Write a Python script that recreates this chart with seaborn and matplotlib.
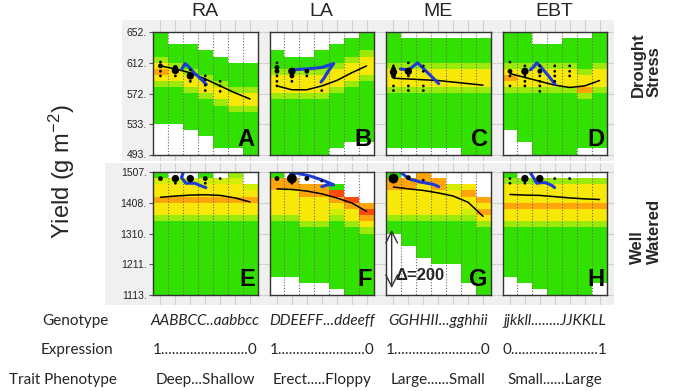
import numpy as np
import pandas as pd
import matplotlib
matplotlib.use('Agg')
import matplotlib.pyplot as plt
import seaborn as sns
from matplotlib.colors import ListedColormap

# ### Data

# x = genotype class (centre of each of the 7 columns)
classes = [0.5, 1.5, 2.5, 3.5, 4.5, 5.5, 6.5]
traits = ['RA', 'LA', 'ME', 'EBT']
letters = ['A', 'B', 'C', 'D', 'E', 'F', 'G', 'H']

ds_range = (493, 652)
ww_range = (1113, 1507)
ds_ticks = [493, 533, 572, 612, 652]
ww_ticks = [1113, 1211, 1310, 1408, 1507]

# frequency class per cell, one string per genotype column, top -> bottom
# 0 = no data, 1 = low ... 6 = high
heat_A = ["11112454211111100000", "00111244211111100000", "00111124421111110000",
          "00011112442111111000", "00001111244211111110", "00000111124421111110",
          "00000111124421111111"]
heat_B = ["00011124442111111111", "00001124442111111111", "00001124442111111111",
          "00011124442111111111", "00111244421111111110", "01112444211111111100",
          "11124442111111111100"]
heat_C = ["11111244421111111110", "01111244421111111110", "01111244421111111110",
          "01111244421111111110", "01111244421111111110", "01111244421111111111",
          "01111244421111111111"]
heat_D = ["11111245421111110000", "11111244421111111100", "00111244421111111111",
          "00111244421111111111", "01111244421111111111", "01111124452111111110",
          "11111244421111111110"]
heat_E = ["13445442111111111111", "03445442111111111111", "03445442111111111111",
          "13445442111111111111", "03445442111111111111", "23445442111111111111",
          "00345442111111111111"]
heat_F = ["15544442111111111000", "05544442111111111000", "00554444211111111100",
          "00554444211111111100", "00165432111111111110", "00006544211111111111",
          "00000565421111111111"]
heat_G = ["15544442110000000000", "05544442111100000000", "55444442111111000000",
          "05544442111111100000", "00344442111111100000", "00454432111111111100",
          "00005454211111111111"]
heat_H = ["12444544211111111000", "02444544211111111100", "02444544211111111110",
          "02444544211111111111", "02444544211111111111", "02444544211111111111",
          "02444544211111111100"]

# mean yield per genotype class
trend_A = [608, 604, 599, 591, 582, 573, 565]
trend_B = [582, 577, 577, 582, 589, 599, 608]
trend_C = [592, 591, 590, 589, 587, 585, 583]
trend_D = [598, 593, 588, 583, 580, 582, 589]
trend_E = [1426, 1430, 1433, 1434, 1432, 1424, 1411]
trend_F = [1453, 1451, 1446, 1437, 1424, 1408, 1381]
trend_G = [1459, 1453, 1448, 1440, 1430, 1410, 1365]
trend_H = [1435, 1433, 1432, 1428, 1424, 1421, 1419]

# selection trajectory (blue)
path_A_x = [1.93, 2.05, 2.15, 2.39, 2.75, 3.22, 3.57]
path_A_y = [604, 608, 611, 607, 599, 591, 584]
path_B_x = [1.5, 2.5, 3.5, 4.3, 3.9, 3.65, 3.45]
path_B_y = [603, 604, 606, 611, 600, 592, 587]
path_C_x = [0.96, 1.52, 2.12, 3.53]
path_C_y = [604, 603, 612, 585]
path_D_x = [1.86, 2.1, 2.3, 2.55, 3.0, 3.53]
path_D_y = [603, 607, 612, 607, 597, 584]
path_E_x = [2.02, 1.91, 2.2, 2.8, 3.14, 3.54]
path_E_y = [1505, 1489, 1471, 1471, 1464, 1457]
path_F_x = [1.4, 1.8, 2.8, 3.6, 4.3, 3.9, 3.5]
path_F_y = [1499, 1504, 1493, 1480, 1466, 1466, 1460]
path_G_x = [0.96, 1.3, 1.63, 1.86, 2.3, 2.75, 3.2, 3.53]
path_G_y = [1507, 1494, 1483, 1481, 1475, 1471, 1467, 1460]
path_H_x = [1.86, 2.15, 2.3, 2.64, 2.86, 3.31, 3.49]
path_H_y = [1505, 1483, 1471, 1473, 1473, 1464, 1457]

# population dots: class, yield, size class
dots_A_x = [0.5, 0.5, 0.5, 0.5, 1.5, 1.5, 1.5, 2.5, 2.5, 2.5, 3.5, 3.5, 3.5, 3.5, 4.5, 4.5, 4.5]
dots_A_y = [613, 608, 601, 595, 606, 602, 595, 603, 595, 588, 595, 590, 583, 576, 588, 582, 575]
dots_A_s = [1, 2, 1, 1, 2, 3, 1, 1, 3, 1, 1, 1, 1, 1, 1, 1, 1]
dots_B_x = [0.5, 0.5, 0.5, 0.5, 0.5, 0.5, 1.5, 1.5, 1.5, 2.5, 2.5, 3.5]
dots_B_y = [612, 606, 601, 595, 588, 582, 601, 595, 588, 601, 595, 576]
dots_B_s = [1, 2, 2, 1, 1, 1, 3, 2, 1, 2, 1, 1]
dots_C_x = [0.5, 0.5, 0.5, 0.5, 0.5, 0.5, 1.5, 1.5, 1.5, 1.5, 1.5, 2.5, 2.5, 2.5, 2.5]
dots_C_y = [608, 604, 600, 595, 582, 576, 612, 601, 595, 582, 576, 608, 601, 582, 576]
dots_C_s = [1, 2, 3, 2, 1, 1, 1, 3, 1, 1, 1, 1, 1, 1, 1]
dots_D_x = [0.5, 0.5, 0.5, 0.5, 1.5, 1.5, 1.5, 1.5, 1.5, 2.5, 2.5, 2.5, 2.5, 2.5, 2.5,
            3.5, 3.5, 3.5, 3.5, 4.5, 4.5, 4.5]
dots_D_y = [613, 601, 595, 582, 608, 601, 595, 588, 582, 608, 601, 595, 588, 582, 575,
            608, 601, 595, 588, 608, 601, 595]
dots_D_s = [1, 2, 1, 1, 1, 3, 1, 1, 1, 1, 2, 1, 1, 1, 1, 1, 1, 1, 1, 1, 1, 1]
dots_E_x = [0.5, 1.5, 1.5, 2.5, 3.5, 3.5, 4.5]
dots_E_y = [1486, 1486, 1471, 1486, 1486, 1471, 1486]
dots_E_s = [2, 3, 1, 3, 2, 1, 1]
dots_F_x = [0.5, 1.5, 1.5, 2.5, 3.5]
dots_F_y = [1486, 1486, 1471, 1486, 1478]
dots_F_s = [2, 4, 1, 2, 1]
dots_G_x = [0.5, 1.5, 2.5]
dots_G_y = [1486, 1489, 1481]
dots_G_s = [4, 2, 1]
dots_H_x = [0.5, 0.5, 1.5, 1.5, 2.5, 3.5, 4.5]
dots_H_y = [1486, 1471, 1486, 1471, 1486, 1486, 1486]
dots_H_s = [1, 1, 3, 1, 3, 1, 1]

# delta marker in panel G
delta_x = 0.38
delta_lo, delta_hi = 1135, 1322
delta_label = 'Δ=200'

# table under the panels
row_names = ['Genotype', 'Expression', 'Trait Phenotype']
genotype_txt = ['AABBCC..aabbcc', 'DDEEFF...ddeeff', 'GGHHII...gghhii', 'jjkkll........JJKKLL']
expression_txt = ['1........................0', '1........................0',
                  '1........................0', '0........................1']
phenotype_txt = ['Deep...Shallow', 'Erect.....Floppy', 'Large......Small', 'Small......Large']

# ### Styling / layout
sns.set_theme(style='white')
plt.rcParams['font.family'] = ['Liberation Sans', 'DejaVu Sans']
plt.rcParams['mathtext.default'] = 'regular'

cmap = ListedColormap(['#33e100', '#9bea0a', '#d3ee05', '#f8e808', '#ffa50a', '#ff4a0a'])
dot_sizes = {1: 4, 2: 12, 3: 28, 4: 50}
grid_c = '#cfcfcf'

W, H = 673, 391
panel_left = [153, 269.5, 386, 502.5]
panel_w = 104.5
row_top = [32, 172]
row_bot = [154.5, 295]
cell_x = [[122, 263, 380, 496, 614], [105, 263, 380, 496, 614]]
cell_y = [(20, 161), (163, 305)]
ranges = [ds_range, ww_range]
ticks = [ds_ticks, ww_ticks]


def frac(x0, y0, x1, y1):
    return [x0 / W, 1 - y1 / H, (x1 - x0) / W, (y1 - y0) / H]


fig = plt.figure(figsize=(6.73, 3.91), dpi=100)

panels = [
    (0, 0, heat_A, trend_A, path_A_x, path_A_y, dots_A_x, dots_A_y, dots_A_s),
    (0, 1, heat_B, trend_B, path_B_x, path_B_y, dots_B_x, dots_B_y, dots_B_s),
    (0, 2, heat_C, trend_C, path_C_x, path_C_y, dots_C_x, dots_C_y, dots_C_s),
    (0, 3, heat_D, trend_D, path_D_x, path_D_y, dots_D_x, dots_D_y, dots_D_s),
    (1, 0, heat_E, trend_E, path_E_x, path_E_y, dots_E_x, dots_E_y, dots_E_s),
    (1, 1, heat_F, trend_F, path_F_x, path_F_y, dots_F_x, dots_F_y, dots_F_s),
    (1, 2, heat_G, trend_G, path_G_x, path_G_y, dots_G_x, dots_G_y, dots_G_s),
    (1, 3, heat_H, trend_H, path_H_x, path_H_y, dots_H_x, dots_H_y, dots_H_s),
]

for k, (r, c, heat, trend, px, py, dx, dy, ds) in enumerate(panels):
    rng = ranges[r]
    left, top, bot = panel_left[c], row_top[r], row_bot[r]

    # grey background cell with grid, in the same data scale as the panel
    x0, x1 = cell_x[r][c], cell_x[r][c + 1]
    y0, y1 = cell_y[r]
    bg = fig.add_axes(frac(x0, y0, x1, y1))
    kx = 7 / panel_w
    ky = (rng[1] - rng[0]) / (bot - top)
    xlim = ((x0 - left) * kx, (x1 - left) * kx)
    ylim = (rng[0] - (y1 - bot) * ky, rng[1] + (top - y0) * ky)
    bg.set_xlim(xlim)
    bg.set_ylim(ylim)
    bg.set_facecolor('#f0f0f0')
    bg.vlines(classes, ylim[0], ylim[1], color=grid_c, lw=0.8)
    bg.hlines(ticks[r], 0 if c == 0 else xlim[0], xlim[1], color=grid_c, lw=0.8)
    bg.set_xticks([])
    bg.set_yticks([])
    for sp in bg.spines.values():
        sp.set_visible(False)

    # heatmap of frequencies
    ax = fig.add_axes(frac(left, top, left + panel_w, bot))
    grid = pd.DataFrame(np.array([[int(ch) for ch in col] for col in heat]).T,
                        columns=range(1, 8))
    sns.heatmap(grid, mask=grid == 0, cmap=cmap, vmin=0.5, vmax=6.5, cbar=False,
                xticklabels=False, yticklabels=False, ax=ax)
    ax.set_facecolor('white')
    ax.vlines(range(1, 7), 0, len(grid), colors='#6a6a6a',
              linestyles=(0, (1, 1.6)), lw=0.8)

    # overlay in yield units
    ov = ax.twinx()
    sns.lineplot(x=classes, y=trend, color='black', lw=1.1, ax=ov)
    sns.lineplot(x=px, y=py, sort=False, estimator=None, color='#1c3ad8', lw=2.2, ax=ov)
    sns.scatterplot(x=dx, y=dy, size=ds, sizes=dot_sizes, color='black', linewidth=0,
                    legend=False, ax=ov, zorder=5)
    ax.set_xlim(0, 7)
    ov.set_ylim(*rng)
    ov.set_ylabel('')
    for sp in ov.spines.values():
        sp.set_visible(True)
        sp.set_color('#333333')
        sp.set_linewidth(1)
    if c == 0:
        ov.yaxis.set_ticks_position('left')
        ov.set_yticks(ticks[r])
        ov.set_yticklabels([f'{t}.' for t in ticks[r]])
        ov.tick_params(axis='y', which='both', left=True, right=False, length=3,
                       width=0.8, color='#555555', pad=1.5, labelsize=7.5,
                       labelcolor='#222222')
        for lab in ov.get_yticklabels():
            lab.set_family(['Liberation Sans Narrow', 'Liberation Sans'])
    else:
        ov.set_yticks([])

    ov.text(0.975, 0.03, letters[k], transform=ov.transAxes, ha='right', va='bottom',
            fontsize=17, fontweight='bold', color='black', zorder=6)

    if letters[k] == 'G':
        ov.annotate('', xy=(delta_x, delta_lo), xytext=(delta_x, delta_hi),
                    arrowprops=dict(arrowstyle='<->,head_length=0.7,head_width=0.35',
                                    lw=1, color='#333333', shrinkA=0, shrinkB=0))
        ov.text(0.62, 1177, delta_label, fontsize=12, fontweight='bold', va='center',
                ha='left', zorder=6)

    if r == 0:
        fig.text((left + panel_w / 2) / W, 1 - 12 / H, traits[c], ha='center',
                 va='center', fontsize=14)

# axis / row labels
fig.text(62 / W, 1 - 172 / H, 'Yield (g m$^{-2}$)', rotation=90, ha='center',
         va='center', fontsize=17)
fig.text(646 / W, 1 - 97 / H, 'Drought\nStress', rotation=90, ha='center', va='bottom',
         multialignment='left', fontsize=12, fontweight='bold', linespacing=1.1)
fig.text(646 / W, 1 - 264 / H, 'Well\nWatered', rotation=90, ha='center', va='bottom',
         multialignment='left', fontsize=12, fontweight='bold', linespacing=1.1)

# table below panels
label_x = [75, 77, 63]
row_y = [321, 350, 380]
for name, lx, ry in zip(row_names, label_x, row_y):
    fig.text(lx / W, 1 - ry / H, name, ha='center', va='center', fontsize=11,
             family=['Lato', 'DejaVu Sans'])
for c in range(4):
    cx = (panel_left[c] + panel_w / 2) / W
    fig.text(cx, 1 - row_y[0] / H, genotype_txt[c], ha='center', va='center',
             fontsize=11, style='italic', family=['Lato', 'DejaVu Sans'])
    fig.text(cx, 1 - row_y[1] / H, expression_txt[c], ha='center', va='center',
             fontsize=11, family=['Lato', 'DejaVu Sans'])
    fig.text(cx, 1 - row_y[2] / H, phenotype_txt[c], ha='center', va='center',
             fontsize=11, family=['Lato', 'DejaVu Sans'])

fig.savefig('out.png', dpi=100)
